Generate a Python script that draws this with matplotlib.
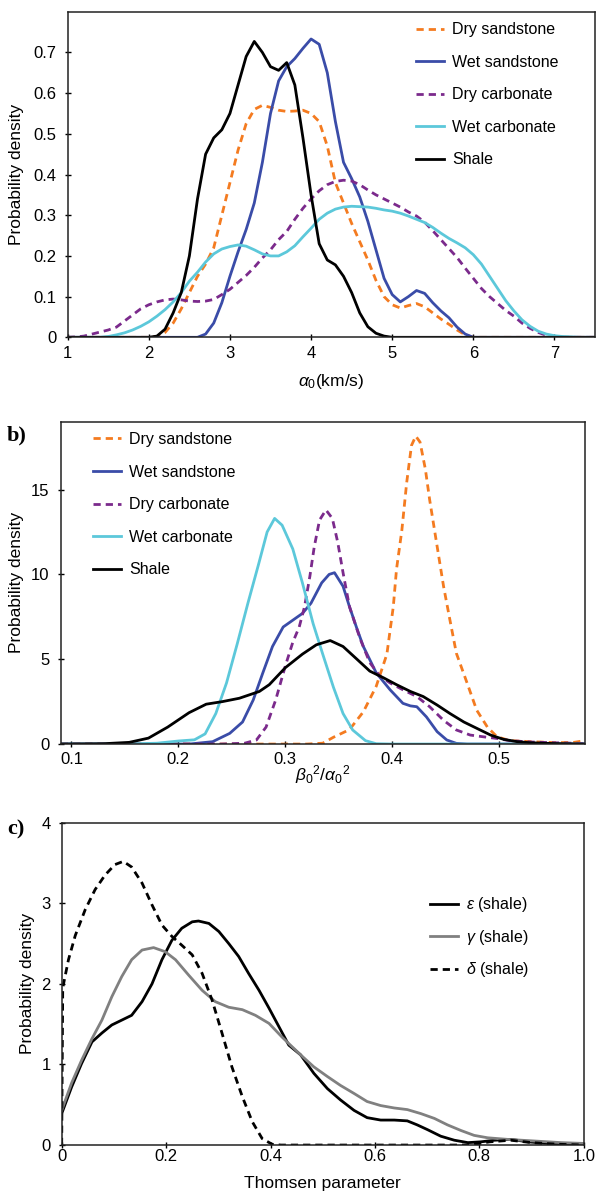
import matplotlib
matplotlib.use('Agg')
import matplotlib.pyplot as plt

plt.rcParams['font.family'] = ['Liberation Sans', 'DejaVu Sans']
plt.rcParams['mathtext.fontset'] = 'custom'
plt.rcParams['mathtext.rm'] = 'Liberation Sans'
plt.rcParams['mathtext.it'] = 'Liberation Sans:italic'

# ---- panel a: P-wave velocity alpha0 (km/s)
a_dry_sand_x = [1.0, 2.0, 2.1, 2.2, 2.3, 2.4, 2.5, 2.6, 2.7, 2.8, 2.9, 3.0, 3.1, 3.2, 3.3, 3.4, 3.5, 3.6, 3.7, 3.8,
                3.9, 4.0, 4.1, 4.2, 4.3, 4.4, 4.5, 4.6, 4.7, 4.8, 4.9, 5.0, 5.1, 5.2, 5.3, 5.4, 5.5, 5.6, 5.7, 5.8,
                5.9, 6.0, 7.5]
a_dry_sand_y = [0, 0, 0.002, 0.012, 0.035, 0.07, 0.11, 0.15, 0.18, 0.22, 0.30, 0.38, 0.46, 0.525, 0.56, 0.57, 0.565,
                0.558, 0.555, 0.556, 0.558, 0.55, 0.53, 0.47, 0.38, 0.33, 0.28, 0.235, 0.19, 0.14, 0.10, 0.08, 0.072,
                0.078, 0.083, 0.075, 0.06, 0.045, 0.032, 0.018, 0.006, 0, 0]

a_wet_sand_x = [1.0, 2.6, 2.7, 2.8, 2.9, 3.0, 3.1, 3.2, 3.3, 3.4, 3.5, 3.6, 3.7, 3.8, 3.9, 4.0, 4.1, 4.2, 4.3, 4.4,
                4.5, 4.6, 4.7, 4.8, 4.9, 5.0, 5.1, 5.2, 5.3, 5.4, 5.5, 5.6, 5.7, 5.8, 5.9, 6.0, 7.5]
a_wet_sand_y = [0, 0, 0.008, 0.035, 0.085, 0.15, 0.21, 0.265, 0.33, 0.43, 0.55, 0.63, 0.665, 0.685, 0.71, 0.733,
                0.72, 0.65, 0.53, 0.43, 0.39, 0.345, 0.285, 0.215, 0.145, 0.105, 0.087, 0.10, 0.115, 0.108, 0.085,
                0.065, 0.048, 0.025, 0.008, 0, 0]

a_dry_carb_x = [1.0, 1.1, 1.2, 1.3, 1.4, 1.5, 1.6, 1.7, 1.8, 1.9, 2.0, 2.1, 2.2, 2.3, 2.4, 2.5, 2.6, 2.7, 2.8, 2.9,
                3.0, 3.1, 3.2, 3.3, 3.4, 3.5, 3.6, 3.7, 3.8, 3.9, 4.0, 4.1, 4.2, 4.3, 4.4, 4.5, 4.6, 4.7, 4.8, 4.9,
                5.0, 5.1, 5.2, 5.3, 5.4, 5.5, 5.6, 5.7, 5.8, 5.9, 6.0, 6.1, 6.2, 6.3, 6.4, 6.5, 6.6, 6.7, 6.8, 6.9,
                7.0, 7.1, 7.5]
a_dry_carb_y = [0, 0.001, 0.003, 0.008, 0.013, 0.018, 0.025, 0.04, 0.055, 0.07, 0.08, 0.087, 0.092, 0.094, 0.092,
                0.089, 0.088, 0.089, 0.093, 0.105, 0.118, 0.135, 0.152, 0.172, 0.195, 0.215, 0.24, 0.26, 0.29, 0.317,
                0.34, 0.36, 0.375, 0.383, 0.386, 0.384, 0.375, 0.362, 0.35, 0.34, 0.33, 0.32, 0.308, 0.298, 0.283,
                0.262, 0.24, 0.218, 0.196, 0.17, 0.145, 0.12, 0.10, 0.083, 0.066, 0.052, 0.035, 0.022, 0.012, 0.005,
                0.001, 0, 0]

a_wet_carb_x = [1.0, 1.4, 1.5, 1.6, 1.7, 1.8, 1.9, 2.0, 2.1, 2.2, 2.3, 2.4, 2.5, 2.6, 2.7, 2.8, 2.9, 3.0, 3.1, 3.2,
                3.3, 3.4, 3.5, 3.6, 3.7, 3.8, 3.9, 4.0, 4.1, 4.2, 4.3, 4.4, 4.5, 4.6, 4.7, 4.8, 4.9, 5.0, 5.1, 5.2,
                5.3, 5.4, 5.5, 5.6, 5.7, 5.8, 5.9, 6.0, 6.1, 6.2, 6.3, 6.4, 6.5, 6.6, 6.7, 6.8, 6.9, 7.0, 7.1, 7.2,
                7.3, 7.5]
a_wet_carb_y = [0, 0, 0.002, 0.006, 0.011, 0.018, 0.027, 0.038, 0.052, 0.068, 0.087, 0.11, 0.138, 0.16, 0.185, 0.205,
                0.217, 0.223, 0.227, 0.224, 0.215, 0.205, 0.2, 0.2, 0.21, 0.225, 0.247, 0.268, 0.29, 0.305, 0.315,
                0.32, 0.322, 0.321, 0.32, 0.317, 0.313, 0.31, 0.305, 0.298, 0.29, 0.282, 0.27, 0.256, 0.243, 0.232,
                0.22, 0.203, 0.18, 0.15, 0.12, 0.09, 0.065, 0.043, 0.027, 0.015, 0.008, 0.004, 0.002, 0.001, 0, 0]

a_shale_x = [1.0, 2.0, 2.1, 2.2, 2.3, 2.4, 2.5, 2.6, 2.7, 2.8, 2.9, 3.0, 3.1, 3.2, 3.3, 3.4, 3.5, 3.6, 3.7, 3.8,
             3.9, 4.0, 4.1, 4.2, 4.3, 4.4, 4.5, 4.6, 4.7, 4.8, 4.9, 5.0, 7.5]
a_shale_y = [0, 0, 0.003, 0.02, 0.06, 0.11, 0.20, 0.34, 0.45, 0.49, 0.51, 0.55, 0.62, 0.69, 0.727, 0.70, 0.665, 0.656,
             0.675, 0.62, 0.49, 0.35, 0.23, 0.19, 0.178, 0.15, 0.11, 0.06, 0.026, 0.01, 0.003, 0, 0]

# ---- panel b: beta0^2 / alpha0^2
b_dry_sand_x = [0.09, 0.32, 0.335, 0.345, 0.36, 0.373, 0.385, 0.395, 0.401, 0.404, 0.409, 0.4135, 0.418, 0.422,
                0.426, 0.431, 0.435, 0.442, 0.448, 0.454, 0.46, 0.47, 0.479, 0.489, 0.498, 0.51, 0.53, 0.554, 0.57,
                0.58]
b_dry_sand_y = [0, 0, 0.05, 0.4, 0.85, 1.9, 3.4, 5.3, 8.1, 10.3, 12.6, 15.4, 17.6, 18.15, 17.8, 16.2, 14.4, 11.65,
                9.3, 7.3, 5.35, 3.6, 2.0, 1.0, 0.43, 0.2, 0.14, 0.08, 0.1, 0.2]

b_wet_sand_x = [0.09, 0.21, 0.232, 0.248, 0.26, 0.27, 0.279, 0.288, 0.298, 0.307, 0.316, 0.324, 0.334, 0.341, 0.346,
                0.354, 0.36, 0.367, 0.373, 0.385, 0.398, 0.41, 0.417, 0.423, 0.432, 0.442, 0.451, 0.46, 0.47, 0.58]
b_wet_sand_y = [0, 0, 0.14, 0.63, 1.3, 2.6, 4.2, 5.75, 6.9, 7.3, 7.7, 8.3, 9.5, 10.0, 10.1, 9.3, 8.1, 6.8, 5.75, 4.2,
                3.2, 2.4, 2.25, 2.2, 1.6, 0.73, 0.24, 0.04, 0, 0]

b_dry_carb_x = [0.09, 0.24, 0.262, 0.273, 0.282, 0.291, 0.30, 0.307, 0.313, 0.318, 0.323, 0.327, 0.332, 0.338, 0.344,
                0.349, 0.354, 0.36, 0.37, 0.379, 0.3885, 0.398, 0.41, 0.423, 0.435, 0.448, 0.46, 0.473, 0.485,
                0.498, 0.51, 0.53, 0.55, 0.58]
b_dry_carb_y = [0, 0, 0.05, 0.24, 1.0, 2.6, 4.6, 6.0, 6.9, 8.1, 9.9, 11.6, 13.2, 13.8, 13.3, 11.9, 10.1, 8.1, 6.2,
                4.8, 4.0, 3.6, 3.2, 2.8, 2.2, 1.4, 0.83, 0.53, 0.43, 0.33, 0.2, 0.12, 0.08, 0.03]

b_wet_carb_x = [0.09, 0.15, 0.18, 0.20, 0.215, 0.225, 0.235, 0.245, 0.255, 0.265, 0.275, 0.283, 0.29, 0.297, 0.307,
                0.316, 0.326, 0.335, 0.345, 0.354, 0.363, 0.375, 0.385, 0.40, 0.58]
b_wet_carb_y = [0, 0, 0.05, 0.18, 0.25, 0.6, 1.8, 3.6, 5.9, 8.3, 10.6, 12.5, 13.3, 12.9, 11.5, 9.5, 7.1, 5.3, 3.35,
                1.8, 0.83, 0.2, 0.02, 0, 0]

b_shale_x = [0.09, 0.13, 0.154, 0.172, 0.19, 0.21, 0.226, 0.241, 0.257, 0.2757, 0.285, 0.30, 0.316, 0.329, 0.342,
             0.354, 0.367, 0.379, 0.392, 0.404, 0.417, 0.429, 0.442, 0.454, 0.467, 0.479, 0.492, 0.504, 0.517, 0.529,
             0.55, 0.58]
b_shale_y = [0, 0.02, 0.1, 0.35, 1.0, 1.85, 2.35, 2.5, 2.7, 3.1, 3.5, 4.5, 5.3, 5.85, 6.1, 5.75, 5.0, 4.3, 3.9, 3.5,
             3.1, 2.8, 2.3, 1.8, 1.3, 0.93, 0.53, 0.28, 0.14, 0.08, 0.03, 0]

# ---- panel c: Thomsen parameters (shale)
c_eps_x = [0.0, 0.019, 0.038, 0.058, 0.077, 0.096, 0.115, 0.134, 0.154, 0.173, 0.192, 0.211, 0.23, 0.25, 0.262,
           0.282, 0.301, 0.32, 0.339, 0.358, 0.378, 0.397, 0.416, 0.435, 0.4575, 0.483, 0.509, 0.534, 0.56, 0.585,
           0.611, 0.637, 0.662, 0.681, 0.701, 0.726, 0.752, 0.778, 0.803, 0.829, 0.861, 0.893, 0.931, 1.0]
c_eps_y = [0.39, 0.72, 1.01, 1.28, 1.39, 1.49, 1.55, 1.61, 1.78, 2.0, 2.3, 2.54, 2.69, 2.77, 2.78, 2.75, 2.65, 2.5,
           2.34, 2.13, 1.92, 1.7, 1.47, 1.24, 1.12, 0.89, 0.70, 0.56, 0.43, 0.34, 0.31, 0.31, 0.30, 0.25, 0.19, 0.11,
           0.06, 0.03, 0.04, 0.06, 0.07, 0.04, 0.02, 0.01]

c_gam_x = [0.0, 0.019, 0.038, 0.058, 0.077, 0.096, 0.115, 0.134, 0.154, 0.176, 0.198, 0.218, 0.243, 0.269, 0.294,
           0.32, 0.346, 0.371, 0.397, 0.422, 0.4575, 0.483, 0.509, 0.534, 0.56, 0.585, 0.611, 0.637, 0.662, 0.688,
           0.714, 0.739, 0.765, 0.79, 0.816, 0.855, 0.906, 0.957, 1.0]
c_gam_y = [0.43, 0.77, 1.05, 1.32, 1.55, 1.84, 2.09, 2.3, 2.42, 2.45, 2.4, 2.3, 2.11, 1.92, 1.78, 1.71, 1.68, 1.61,
           1.51, 1.34, 1.12, 0.97, 0.85, 0.74, 0.64, 0.54, 0.49, 0.46, 0.44, 0.39, 0.33, 0.25, 0.18, 0.12, 0.09,
           0.07, 0.05, 0.03, 0.02]

c_del_x = [0.0, 0.002, 0.013, 0.026, 0.045, 0.064, 0.083, 0.102, 0.118, 0.134, 0.154, 0.173, 0.192, 0.211, 0.23,
           0.25, 0.269, 0.288, 0.307, 0.326, 0.346, 0.365, 0.384, 0.403, 0.42, 0.78, 0.82, 0.86, 0.9, 0.95, 1.0]
c_del_y = [0, 1.95, 2.3, 2.6, 2.92, 3.17, 3.35, 3.48, 3.52, 3.45, 3.25, 2.98, 2.73, 2.59, 2.48, 2.36, 2.13, 1.8,
           1.39, 0.97, 0.6, 0.29, 0.08, 0.01, 0, 0, 0.04, 0.06, 0.03, 0.01, 0]

orange = '#F47B20'
blue = '#3A4CA8'
purple = '#7B2A8C'
cyan = '#5CC8DA'
dash = (0, (2.6, 1.8))
lw = 2.0
leg_kw = dict(loc='upper left', frameon=False, fontsize=11.5, handlelength=1.75, handletextpad=0.55,
              borderpad=0, borderaxespad=0)

fig = plt.figure(figsize=(5.96, 11.97), dpi=100)
ax_a = fig.add_axes([0.1136, 0.7182, 0.8847, 0.272])
ax_b = fig.add_axes([0.102, 0.3784, 0.879, 0.2693])
ax_c = fig.add_axes([0.1035, 0.0434, 0.876, 0.2693])

# panel a
ax_a.plot(a_dry_sand_x, a_dry_sand_y, color=orange, lw=lw, ls=dash, label='Dry sandstone')
ax_a.plot(a_wet_sand_x, a_wet_sand_y, color=blue, lw=lw, label='Wet sandstone')
ax_a.plot(a_dry_carb_x, a_dry_carb_y, color=purple, lw=lw, ls=dash, label='Dry carbonate')
ax_a.plot(a_wet_carb_x, a_wet_carb_y, color=cyan, lw=lw, label='Wet carbonate')
ax_a.plot(a_shale_x, a_shale_y, color='black', lw=lw, label='Shale')
ax_a.set_xlim(1, 7.5)
ax_a.set_ylim(0, 0.80)
ax_a.set_xticks([1, 2, 3, 4, 5, 6, 7])
ax_a.set_yticks([0, 0.1, 0.2, 0.3, 0.4, 0.5, 0.6, 0.7])
ax_a.set_yticklabels(['0', '0.1', '0.2', '0.3', '0.4', '0.5', '0.6', '0.7'])
ax_a.set_xlabel(r'$\alpha_0$(km/s)', fontsize=12.5)
ax_a.xaxis.set_label_coords(0.5, -0.105)
ax_a.set_ylabel('Probability density', fontsize=12.5)
ax_a.yaxis.set_label_coords(-0.082, 0.5)
ax_a.legend(bbox_to_anchor=(0.66, 0.968), labelspacing=1.1, **leg_kw)

# panel b
ax_b.plot(b_dry_sand_x, b_dry_sand_y, color=orange, lw=lw, ls=dash, label='Dry sandstone')
ax_b.plot(b_wet_sand_x, b_wet_sand_y, color=blue, lw=lw, label='Wet sandstone')
ax_b.plot(b_dry_carb_x, b_dry_carb_y, color=purple, lw=lw, ls=dash, label='Dry carbonate')
ax_b.plot(b_wet_carb_x, b_wet_carb_y, color=cyan, lw=lw, label='Wet carbonate')
ax_b.plot(b_shale_x, b_shale_y, color='black', lw=lw, label='Shale')
ax_b.set_xlim(0.09, 0.58)
ax_b.set_ylim(0, 19)
ax_b.set_xticks([0.1, 0.2, 0.3, 0.4, 0.5])
ax_b.set_yticks([0, 5, 10, 15])
ax_b.set_xlabel(r'$\beta_0{}^2/\alpha_0{}^2$', fontsize=12.5)
ax_b.xaxis.set_label_coords(0.5, -0.06)
ax_b.set_ylabel('Probability density', fontsize=12.5)
ax_b.yaxis.set_label_coords(-0.07, 0.5)
ax_b.legend(bbox_to_anchor=(0.061, 0.968), labelspacing=1.1, **leg_kw)

# panel c
ax_c.plot(c_eps_x, c_eps_y, color='black', lw=lw, label=r'$\varepsilon$ (shale)')
ax_c.plot(c_gam_x, c_gam_y, color='#808080', lw=lw, label=r'$\gamma$ (shale)')
ax_c.plot(c_del_x, c_del_y, color='black', lw=lw, ls=dash, label=r'$\delta$ (shale)')
ax_c.set_xlim(0, 1)
ax_c.set_ylim(0, 4)
ax_c.set_xticks([0, 0.2, 0.4, 0.6, 0.8, 1.0])
ax_c.set_xticklabels(['0', '0.2', '0.4', '0.6', '0.8', '1.0'])
ax_c.set_yticks([0, 1, 2, 3, 4])
ax_c.set_xlabel('Thomsen parameter', fontsize=12.5)
ax_c.xaxis.set_label_coords(0.5, -0.095)
ax_c.set_ylabel('Probability density', fontsize=12.5)
ax_c.yaxis.set_label_coords(-0.052, 0.5)
ax_c.legend(bbox_to_anchor=(0.705, 0.775), labelspacing=0.85, **leg_kw)

for ax in (ax_a, ax_b, ax_c):
    for sp in ax.spines.values():
        sp.set_linewidth(1.1)
        sp.set_color('#222222')
    ax.tick_params(labelsize=12, width=1.0, length=5, direction='inout')
    ax.tick_params(axis='x', pad=3.5)
    ax.tick_params(axis='y', pad=5.5)
ax_c.tick_params(axis='x', pad=0)

# panel letters
fig.text(0.012, 1 - 440 / 1197, 'b)', fontsize=16, fontweight='bold', family='Liberation Serif')
fig.text(0.012, 1 - 834 / 1197, 'c)', fontsize=16, fontweight='bold', family='Liberation Serif')

fig.savefig('out.png', dpi=100)
